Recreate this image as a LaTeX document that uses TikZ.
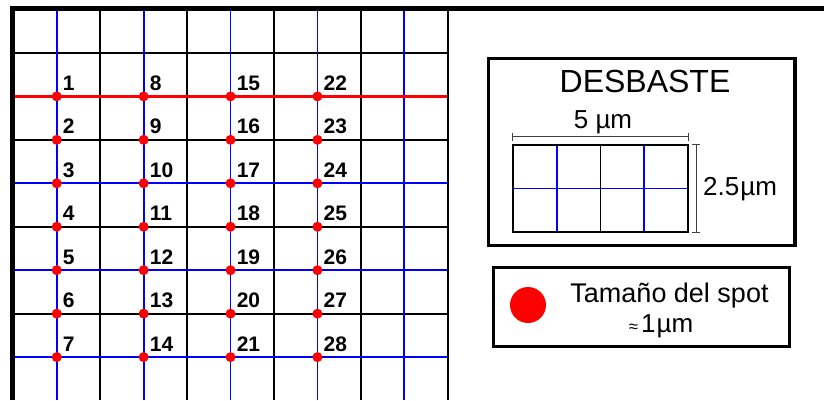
\documentclass[tikz,border=0pt]{standalone}
\usepackage{fontspec}
\setmainfont{Liberation Sans}
\definecolor{gblue}{RGB}{0,0,255}
\definecolor{gred}{RGB}{255,0,0}
\begin{document}
\begin{tikzpicture}[x=1pt,y=-1pt,
  blackline/.style={black,line width=1.8},
  blueline/.style={gblue,line width=1.8},
  redline/.style={gred,line width=3},
  frameline/.style={black,line width=5},
  spotdot/.style={circle,fill=gred,inner sep=0,minimum size=10},
  numlbl/.style={anchor=base west,inner sep=0,font=\bfseries\fontsize{21}{21}\selectfont},
  boxstyle/.style={draw,line width=3.6,inner sep=0},
  dimline/.style={black!75,line width=1},
  txt/.style={inner sep=0,anchor=base}
]
\useasboundingbox (0,0) rectangle (824,400);
\fill[white] (0,0) rectangle (824,400);
% grid
\def\gx#1{13.3+43.45*#1}
\def\gy#1{9.5+43.45*#1}
% black horizontals
\foreach \j in {1,3,5,7}
  \draw[blackline] (12,{\gy{\j}}) -- (447.8,{\gy{\j}});
% black verticals
\foreach \k in {2,4,6,8,10}
  \draw[blackline] ({\gx{\k}},8) -- ({\gx{\k}},400);
% blue horizontals
\foreach \j in {4,6,8}
  \draw[blueline] (12,{\gy{\j}}) -- (447,{\gy{\j}});
% blue verticals
\foreach \k in {1,3,5,7,9}
  \draw[blueline] ({\gx{\k}},8) -- ({\gx{\k}},400);
% red horizontal
\draw[redline] (12,{\gy{2}}) -- (447,{\gy{2}});
% frame
\draw[frameline] (12.5,400) -- (12.5,8.5) -- (824,8.5);
% dots and labels
\foreach \c/\k in {0/1,1/3,2/5,3/7}{
  \foreach \j in {2,...,8}{
    \pgfmathtruncatemacro{\n}{\c*7+\j-1}
    \node[spotdot] (d\n) at ({\gx{\k}},{\gy{\j}}) {};
    \node[numlbl] (l\n) at ({\gx{\k}+6},{\gy{\j}-6}) {\n};
  }
}
% DESBASTE box
\node[boxstyle,minimum width=306.5,minimum height=187] (desb) at (641.75,152) {};
\node[txt,font=\fontsize{32}{32}\selectfont] (title) at (645,92) {DESBASTE};
% small grid
\node[inner sep=0,minimum width=175,minimum height=87] (sg) at (600.5,188.5) {};
\draw[blueline,line width=1.8] (sg.west) -- (sg.east);
\draw[blueline,line width=1.8] ([xshift=-43.75]sg.north) -- ([xshift=-43.75]sg.south);
\draw[blueline,line width=1.8] ([xshift=43.75]sg.north) -- ([xshift=43.75]sg.south);
\draw[black,line width=1.8] (sg.north) -- (sg.south);
\draw[black,line width=1.8] (sg.north west) rectangle (sg.south east);
% horizontal dimension
\coordinate (h1) at ([yshift=8]sg.north west);
\coordinate (h2) at ([yshift=8]sg.north east);
\draw[dimline] (h1) -- (h2);
\draw[dimline] ([yshift=-4]h1) -- ([yshift=4]h1);
\draw[dimline] ([yshift=-4]h2) -- ([yshift=4]h2);
\node[txt,font=\fontsize{26}{26}\selectfont] (w5) at (603,128) {5 µm};
% vertical dimension
\coordinate (v1) at ([xshift=8]sg.north east);
\coordinate (v2) at ([xshift=8]sg.south east);
\draw[dimline] (v1) -- (v2);
\draw[dimline] ([xshift=-4]v1) -- ([xshift=4]v1);
\draw[dimline] ([xshift=-4]v2) -- ([xshift=4]v2);
\node[inner sep=0,anchor=west,font=\fontsize{26}{26}\selectfont] (h25) at (703,189) {2.5\kern1ptµm};
% spot box
\node[boxstyle,minimum width=296,minimum height=79] (spotbox) at (641.5,307) {};
\node[circle,fill=gred,inner sep=0,minimum size=36] (bigdot) at (528,305) {};
\node[txt,font=\fontsize{27}{27}\selectfont] (sp1) at (669.5,302) {Tamaño del spot};
\node[txt,font=\fontsize{26}{26}\selectfont] (sp2) at (661,332) {{\fontsize{17}{17}\selectfont ≈}\kern3pt1\kern1ptµm};
\end{tikzpicture}
\end{document}
